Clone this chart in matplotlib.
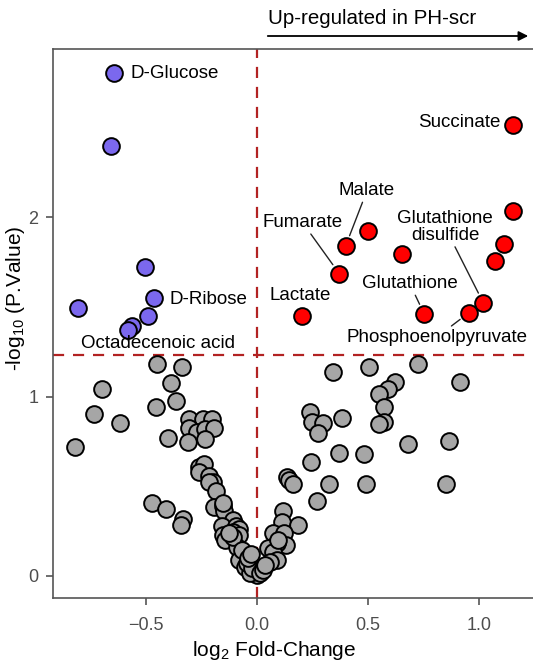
import matplotlib
matplotlib.use("Agg")
import matplotlib.pyplot as plt

plt.rcParams['font.family'] = ['Liberation Sans', 'DejaVu Sans']
plt.rcParams['mathtext.fontset'] = 'custom'
plt.rcParams['mathtext.rm'] = 'Liberation Sans'
plt.rcParams['mathtext.it'] = 'Liberation Sans:italic'

# not significant metabolites (log2 FC, -log10 p)
gray_fc = [-0.452, -0.338, -0.697, -0.386, -0.365, -0.455, -0.734, -0.618, -0.821, -0.401,
           -0.306, -0.245, -0.201, -0.306, -0.269, -0.233, -0.195, -0.312, -0.233, -0.263,
           -0.237, -0.260, -0.218, -0.197, -0.218, -0.183, -0.472, -0.409, -0.335, -0.344,
           -0.192, -0.152, -0.149, -0.107, -0.159, -0.095, -0.081, -0.152, -0.144, -0.109,
           -0.080, -0.091, -0.054, -0.080, -0.032, -0.054, -0.017, -0.001, -0.032, -0.152,
           -0.046, -0.024, -0.107, -0.126, -0.068, -0.041, -0.025,
           0.341, 0.505, 0.724, 0.914, 0.623, 0.589, 0.551, 0.571, 0.239, 0.248,
           0.299, 0.276, 0.383, 0.573, 0.550, 0.679, 0.865, 0.243, 0.371, 0.481,
           0.134, 0.145, 0.161, 0.324, 0.490, 0.850, 0.270, 0.116, 0.113, 0.186,
           0.073, 0.123, 0.131, 0.089, 0.051, 0.073, 0.089, 0.059, 0.028, 0.014,
           0.026, 0.036, 0.096]
gray_p = [1.181, 1.163, 1.042, 1.074, 0.973, 0.940, 0.904, 0.851, 0.717, 0.770,
          0.875, 0.875, 0.875, 0.823, 0.801, 0.821, 0.823, 0.748, 0.763, 0.609,
          0.624, 0.581, 0.559, 0.525, 0.522, 0.475, 0.408, 0.373, 0.319, 0.282,
          0.386, 0.390, 0.364, 0.312, 0.280, 0.280, 0.262, 0.230, 0.201, 0.247,
          0.228, 0.163, 0.117, 0.089, 0.061, 0.052, 0.033, 0.006, 0.015, 0.407,
          0.071, 0.043, 0.216, 0.240, 0.145, 0.100, 0.120,
          1.138, 1.163, 1.179, 1.081, 1.081, 1.040, 1.012, 0.943, 0.912, 0.856,
          0.851, 0.795, 0.882, 0.856, 0.845, 0.735, 0.752, 0.637, 0.687, 0.680,
          0.553, 0.535, 0.513, 0.513, 0.513, 0.511, 0.419, 0.362, 0.303, 0.284,
          0.238, 0.238, 0.173, 0.182, 0.154, 0.135, 0.089, 0.080, 0.043, 0.015,
          0.033, 0.061, 0.201]

# down-regulated (blue)
down_names = ['D-Glucose', '', '', 'D-Ribose', '', '', '', 'Octadecenoic acid']
down_fc = [-0.644, -0.658, -0.505, -0.464, -0.806, -0.491, -0.564, -0.582]
down_p = [2.802, 2.396, 1.721, 1.549, 1.493, 1.448, 1.393, 1.370]

# up-regulated (red)
up_names = ['Succinate', '', '', '', '', 'Malate', '', 'Fumarate',
            'Glutathione\ndisulfide', 'Phosphoenolpyruvate', 'Glutathione', 'Lactate']
up_fc = [1.155, 1.155, 1.113, 1.072, 0.502, 0.399, 0.653, 0.371, 1.020, 0.955, 0.754, 0.201]
up_p = [2.513, 2.033, 1.850, 1.753, 1.922, 1.838, 1.792, 1.684, 1.521, 1.467, 1.458, 1.448]

p_cut = 1.23

# label placement (text position, alignment, leader line?)
label_pos = {
    'D-Glucose': (-0.568, 2.802, 'left', False),
    'D-Ribose': (-0.396, 1.543, 'left', False),
    'Octadecenoic acid': (-0.446, 1.298, 'center', False),
    'Succinate': (1.095, 2.524, 'right', False),
    'Malate': (0.495, 2.145, 'center', True),
    'Fumarate': (0.206, 1.968, 'center', True),
    'Glutathione\ndisulfide': (0.847, 1.944, 'center', True),
    'Glutathione': (0.689, 1.627, 'center', True),
    'Lactate': (0.194, 1.560, 'center', False),
    'Phosphoenolpyruvate': (0.809, 1.330, 'center', True),
}

W, H = 533, 662
fig = plt.figure(figsize=(W / 100, H / 100), dpi=100)
ax = fig.add_axes([53 / W, 64 / H, 493 / W, 549 / H])

ax.axvline(0, color='#b22222', lw=1.6, ls=(0, (5, 4)), zorder=1)
ax.axhline(p_cut, color='#b22222', lw=1.6, ls=(0, (5, 4)), zorder=1)

mk = dict(s=145, edgecolors='black', linewidths=1.4, zorder=3)
ax.scatter(gray_fc, gray_p, c='#a6a6a6', **mk)
ax.scatter(down_fc, down_p, c='#7b68ee', **mk)
ax.scatter(up_fc, up_p, c='#ff0000', **mk)

for names, fcs, ps in [(down_names, down_fc, down_p), (up_names, up_fc, up_p)]:
    for name, fc, p in zip(names, fcs, ps):
        if not name:
            continue
        tx, ty, ha, seg = label_pos[name]
        if seg:
            ax.annotate(name, xy=(fc, p), xytext=(tx, ty), ha=ha, va='center',
                        fontsize=13.5, linespacing=1.0, zorder=4,
                        arrowprops=dict(arrowstyle='-', color='#222222', lw=1.0,
                                        shrinkA=0, shrinkB=8))
        else:
            ax.text(tx, ty, name, ha=ha, va='center', fontsize=13.5, zorder=4)

ax.set_xlim(-0.919, 1.302)
ax.set_ylim(-0.1226, 2.936)
ax.set_xticks([-0.5, 0.0, 0.5, 1.0])
ax.set_xticklabels(['\u22120.5', '0.0', '0.5', '1.0'])
ax.set_yticks([0, 1, 2])

for s in ax.spines.values():
    s.set_color('#555555')
    s.set_linewidth(1.2)
ax.tick_params(colors='#555555', labelcolor='#4d4d4d', labelsize=13, length=5, width=1.2)
ax.tick_params(axis='x', pad=8.5)
ax.tick_params(axis='y', pad=5.5)

ax.set_xlabel('log$_2$ Fold-Change', fontsize=15, va='center')
ax.xaxis.set_label_coords((274 - 53) / 493, (598 - 650) / 549)
ax.set_ylabel('-log$_{10}$ (P.Value)', fontsize=15, va='center')
ax.yaxis.set_label_coords((16 - 53) / 493, (598 - 298) / 549)

fig.text(268 / W, 1 - 18 / H, 'Up-regulated in PH-scr', ha='left', va='center', fontsize=14.8)
fig.add_artist(matplotlib.patches.FancyArrowPatch(
    (265 / W, 1 - 36 / H), (531 / W, 1 - 36 / H), transform=fig.transFigure,
    arrowstyle='-|>', mutation_scale=14, color='black', lw=1.3))

fig.savefig('out.png', dpi=100)
